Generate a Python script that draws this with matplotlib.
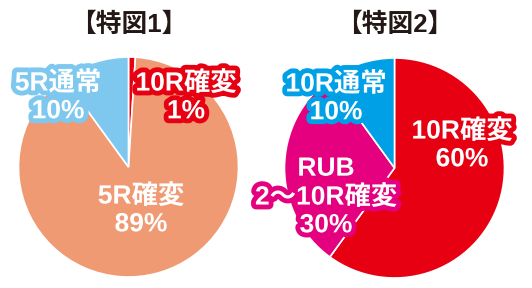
import matplotlib.pyplot as plt
import matplotlib.patheffects as pe

plt.rcParams['font.family'] = ['Liberation Sans', 'Noto Sans CJK JP']

# chart data
titles = ['【特図1】', '【特図2】']
labels1 = ['10R確変', '5R確変', '5R通常']
values1 = [1, 89, 10]
colors1 = ['#e60012', '#f09a74', '#7ec8f0']
labels2 = ['10R確変', 'RUB\n2～10R確変', '10R通常']
values2 = [60, 30, 10]
colors2 = ['#e60012', '#e4007f', '#00a0e6']

W, H = 532, 288
fig = plt.figure(figsize=(W / 100, H / 100), dpi=100)
ax = fig.add_axes([0, 0, 1, 1])

R = 110
centers = [(128.5, H - 167), (394.5, H - 168)]
# label positions in pixels (from top-left), one per slice
pos1 = [(186, 97), (141, 210), (58, 97)]
pos2 = [(462, 145), (326, 197), (336, 98)]

for c, vals, cols, labs, pos, title in [
        (centers[0], values1, colors1, labels1, pos1, titles[0]),
        (centers[1], values2, colors2, labels2, pos2, titles[1])]:
    ax.pie(vals, colors=cols, startangle=90, counterclock=False,
           center=c, radius=R,
           wedgeprops=dict(edgecolor='white', linewidth=1.2))
    ax.text(c[0], H - 25, title, ha='center', va='center',
            fontsize=18.5, fontweight='bold', color='#231815')
    for lab, v, col, (px, py) in zip(labs, vals, cols, pos):
        ax.text(px, H - py, f'{lab}\n{v}%', ha='center', va='center',
                fontsize=19, fontweight='bold', color='white',
                linespacing=1.2,
                path_effects=[pe.withStroke(linewidth=7, foreground=col)])

ax.set_xlim(0, W)
ax.set_ylim(0, H)
ax.set_aspect('equal')
ax.axis('off')

fig.savefig('out.png', dpi=100, facecolor='white')
